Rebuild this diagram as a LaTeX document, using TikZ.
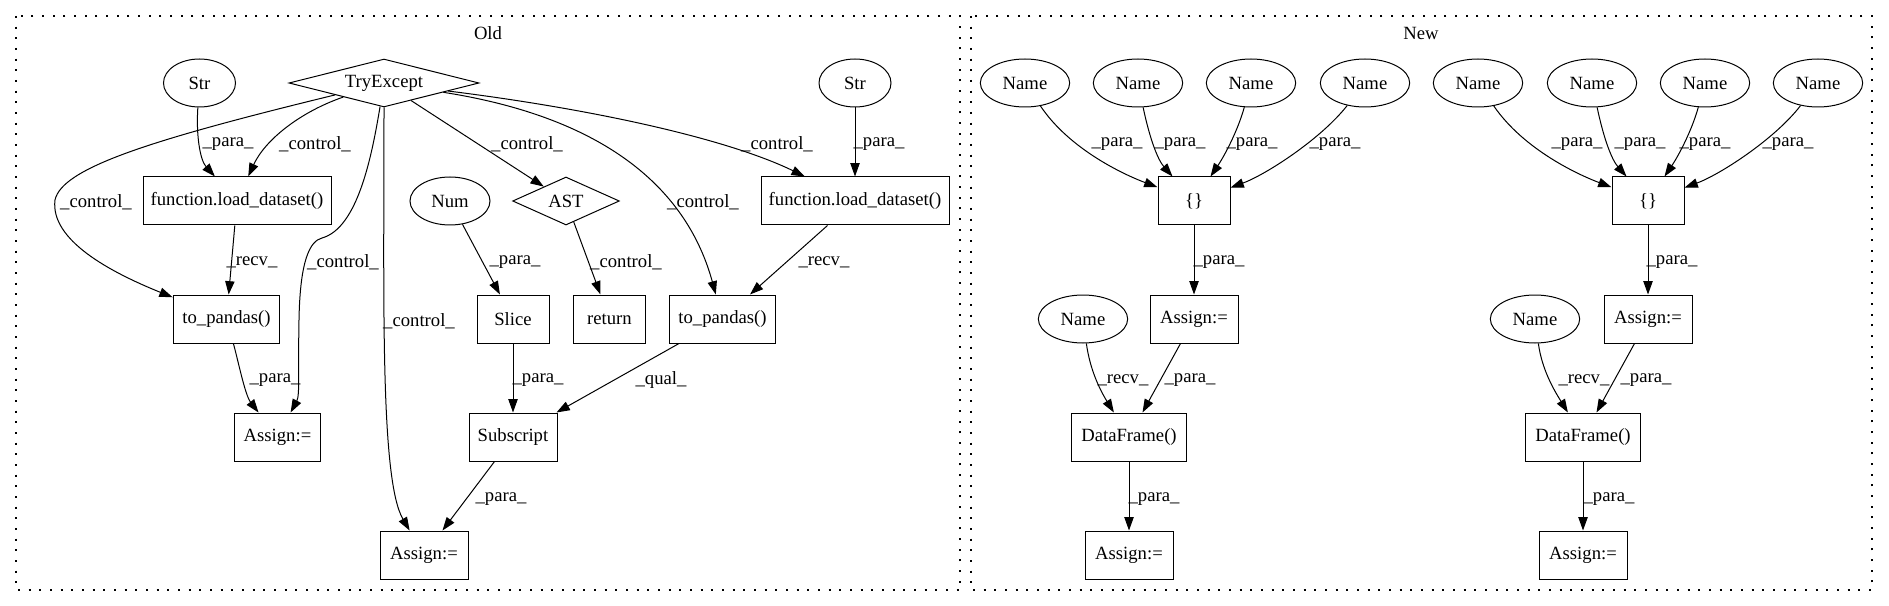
\documentclass[tikz,border=0pt]{standalone}
\usepackage{fontspec}
\setmainfont{Liberation Serif}
\newfontfamily\gvfont{Liberation Serif}
\usetikzlibrary{shapes.geometric,arrows.meta}
\begin{document}
\begin{tikzpicture}[x=0.75pt,y=-0.75pt,
  every node/.style={font=\gvfont\fontsize{14pt}{16pt}\selectfont},
  box/.style={draw,line width=0.75pt,rectangle,inner sep=0pt,minimum height=36pt},
  ell/.style={draw,line width=0.75pt,ellipse,inner sep=0pt,minimum height=36pt},
  dia/.style={draw,line width=0.75pt,diamond,inner sep=0pt,minimum height=36pt},
  conn/.style={draw,line width=0.75pt,-{Triangle[length=10pt,width=7pt]}},
  lbl/.style={inner sep=0pt},
  cluster/.style={draw,line width=1pt,dash pattern=on 1.5pt off 6.5pt}]
\useasboundingbox (0,0) rectangle (1889,606);
% clusters
\draw[cluster] (16,16) rectangle (960,590);
\draw[cluster] (971,16) rectangle (1872,590);
\node[lbl] (oldlbl) at (488,33) {Old};
\node[lbl] (newlbl) at (1421,33) {New};
% ---------------- Old nodes
\node[ell,minimum width=54pt] (str1) at (199.5,83) {Str};
\node[dia,aspect=4,minimum width=142.5pt] (te) at (384,83) {TryExcept};
\node[ell,minimum width=54pt] (str2) at (855,83) {Str};
\node[box,minimum width=141pt] (fld1) at (237,201) {function.load\_dataset()};
\node[ell,minimum width=60pt] (num) at (450,201) {Num};
\node[dia,aspect=2.2,minimum width=80pt] (ast) at (566,201) {AST};
\node[box,minimum width=141pt] (fld2) at (855,201) {function.load\_dataset()};
\node[box,minimum width=80pt] (tp1) at (226.5,319) {to\_pandas()};
\node[box,minimum width=54pt] (slice) at (513,319) {Slice};
\node[box,minimum width=54pt] (ret) at (609.5,319) {return};
\node[box,minimum width=79pt] (tp2) at (722.5,319) {to\_pandas()};
\node[box,minimum width=65pt] (as1) at (277.5,437) {Assign:=};
\node[box,minimum width=66pt] (sub) at (513,437) {Subscript};
\node[box,minimum width=66pt] (as2) at (424,555) {Assign:=};
% ---------------- New nodes
\foreach \i/\x in {1/1025,2/1138,3/1251,4/1365,5/1478,6/1592,7/1705,8/1818}
  \node[ell,minimum width=67pt] (n\i) at (\x,83) {Name};
\node[box,minimum width=54pt] (br1) at (1194,201) {\{\}};
\node[box,minimum width=54pt] (br2) at (1648,201) {\{\}};
\node[ell,minimum width=67pt] (nl1) at (1083,319) {Name};
\node[box,minimum width=66pt] (a1) at (1194,319) {Assign:=};
\node[ell,minimum width=67pt] (nl2) at (1535,319) {Name};
\node[box,minimum width=66pt] (a2) at (1648,319) {Assign:=};
\node[box,minimum width=86pt] (df1) at (1129,437) {DataFrame()};
\node[box,minimum width=86pt] (df2) at (1583,437) {DataFrame()};
\node[box,minimum width=66pt] (b1) at (1129,555) {Assign:=};
\node[box,minimum width=66pt] (b2) at (1583,555) {Assign:=};
% helper coordinates for long bends
\coordinate (c1) at (55,200);
\coordinate (c2) at (322,238);
\coordinate (c3) at (299,320);
% ---------------- Old edges
\draw[conn] (str1) .. controls (196,135) and (200,160) .. (fld1);
\draw[conn] (te) .. controls (300,112) and (265,140) .. (fld1);
\draw[conn] (te) .. controls (150,140) and (62,168) .. (c1) .. controls (50,240) and (110,272) .. (tp1);
\draw[conn] (fld1) -- (tp1);
\draw[conn] (te) .. controls (372,155) and (358,228) .. (c2) .. controls (310,241) and (300,260) .. (c3) .. controls (298,370) and (300,395) .. (as1);
\draw[conn] (tp1) .. controls (238,360) and (245,395) .. (as1);
\draw[conn] (te) .. controls (384,300) and (380,480) .. (as2);
\draw[conn] (te) -- (ast);
\draw[conn] (ast) -- (ret);
\draw[conn] (num) -- (slice);
\draw[conn] (te) .. controls (620,120) and (690,200) .. (tp2);
\draw[conn] (te) .. controls (600,110) and (730,140) .. (fld2);
\draw[conn] (str2) -- (fld2);
\draw[conn] (fld2) -- (tp2);
\draw[conn] (slice) -- (sub);
\draw[conn] (tp2) -- (sub);
\draw[conn] (sub) -- (as2);
% ---------------- Old labels
\node[lbl] (l1) at (228,144) {\_para\_};
\node[lbl] (l2) at (315,144) {\_control\_};
\node[lbl] (l3) at (96,202) {\_control\_};
\node[lbl] (l4) at (252,262) {\_recv\_};
\node[lbl] (l5) at (343,262) {\_control\_};
\node[lbl] (l6) at (275,380) {\_para\_};
\node[lbl] (l7) at (419,321) {\_control\_};
\node[lbl] (l8) at (527,144) {\_control\_};
\node[lbl] (l9) at (626,262) {\_control\_};
\node[lbl] (l10) at (515,262) {\_para\_};
\node[lbl] (l11) at (703,202) {\_control\_};
\node[lbl] (l12) at (777,144) {\_control\_};
\node[lbl] (l13) at (879,144) {\_para\_};
\node[lbl] (l14) at (824,262) {\_recv\_};
\node[lbl] (l15) at (538,380) {\_para\_};
\node[lbl] (l16) at (661,380) {\_qual\_};
\node[lbl] (l17) at (501,499) {\_para\_};
% ---------------- New edges
\draw[conn] (n1) .. controls (1070,150) and (1125,175) .. (br1);
\draw[conn] (n2) .. controls (1150,140) and (1158,160) .. (br1);
\draw[conn] (n3) .. controls (1238,130) and (1225,155) .. (br1);
\draw[conn] (n4) .. controls (1320,140) and (1265,175) .. (br1);
\draw[conn] (n5) .. controls (1524,150) and (1579,175) .. (br2);
\draw[conn] (n6) .. controls (1604,140) and (1612,160) .. (br2);
\draw[conn] (n7) .. controls (1692,130) and (1679,155) .. (br2);
\draw[conn] (n8) .. controls (1774,140) and (1719,175) .. (br2);
\draw[conn] (br1) -- (a1);
\draw[conn] (br2) -- (a2);
\draw[conn] (nl1) .. controls (1090,370) and (1100,390) .. (df1);
\draw[conn] (a1) -- (df1);
\draw[conn] (nl2) .. controls (1542,370) and (1554,390) .. (df2);
\draw[conn] (a2) -- (df2);
\draw[conn] (df1) -- (b1);
\draw[conn] (df2) -- (b2);
% ---------------- New labels
\node[lbl] (m1) at (1117,144) {\_para\_};
\node[lbl] (m2) at (1180,144) {\_para\_};
\node[lbl] (m3) at (1252,144) {\_para\_};
\node[lbl] (m4) at (1335,144) {\_para\_};
\node[lbl] (m5) at (1577,144) {\_para\_};
\node[lbl] (m6) at (1640,144) {\_para\_};
\node[lbl] (m7) at (1705,144) {\_para\_};
\node[lbl] (m8) at (1788,144) {\_para\_};
\node[lbl] (m9) at (1219,262) {\_para\_};
\node[lbl] (m10) at (1672,262) {\_para\_};
\node[lbl] (m11) at (1123,380) {\_recv\_};
\node[lbl] (m12) at (1190,380) {\_para\_};
\node[lbl] (m13) at (1584,380) {\_recv\_};
\node[lbl] (m14) at (1646,380) {\_para\_};
\node[lbl] (m15) at (1154,499) {\_para\_};
\node[lbl] (m16) at (1609,499) {\_para\_};
\end{tikzpicture}
\end{document}
